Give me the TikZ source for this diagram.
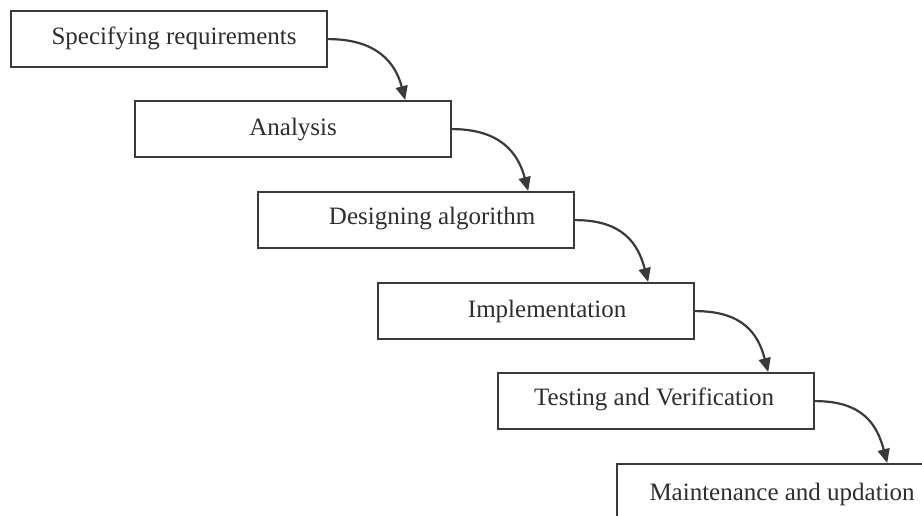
\documentclass[tikz,border=0pt]{standalone}
\usepackage{fontspec}
\setmainfont{Liberation Serif}
\usetikzlibrary{arrows.meta}
\definecolor{ink}{HTML}{3A3A3A}
\definecolor{txt}{HTML}{2E2E2E}
\begin{document}
\begin{tikzpicture}[x=1pt,y=-1pt,
  stage/.style={draw=ink, line width=2.2pt, fill=white, minimum width=316pt,
    minimum height=56pt, anchor=north west, inner sep=0pt},
  caption/.style={text=txt, font=\fontsize{25}{30}\selectfont},
  flow/.style={draw=ink, line width=2.2pt,
    -{Triangle[length=14pt,width=12pt]}}]
\useasboundingbox (0,0) rectangle (922,515);
\clip (0,0) rectangle (922,515);

% the six stages, stepping down to the right
\node[stage, label={[caption, xshift=5pt, yshift=1pt]center:Specifying requirements}] (b1) at (10,10) {};
\node[stage, label={[caption]center:Analysis}] (b2) at (134,100) {};
\node[stage, label={[caption, xshift=16pt, yshift=2pt]center:Designing algorithm}] (b3) at (257,191) {};
\node[stage, label={[caption, xshift=11pt]center:Implementation}] (b4) at (377,282) {};
\node[stage, label={[caption, xshift=-2pt, yshift=2pt]center:Testing and Verification}] (b5) at (497,372) {};
\node[stage, label={[caption, xshift=7pt, yshift=-2pt]center:Maintenance and updation}] (b6) at (616,463) {};

% curved connectors from each stage into the next
\draw[flow] (b1.east) .. controls +(48,0) and +(-10,-38) .. ([xshift=-47pt]b2.north east);
\draw[flow] (b2.east) .. controls +(48,0) and +(-10,-38) .. ([xshift=-47pt]b3.north east);
\draw[flow] (b3.east) .. controls +(48,0) and +(-10,-38) .. ([xshift=-47pt]b4.north east);
\draw[flow] (b4.east) .. controls +(48,0) and +(-10,-38) .. ([xshift=-47pt]b5.north east);
\draw[flow] (b5.east) .. controls +(48,0) and +(-10,-38) .. ([xshift=-47pt]b6.north east);
\end{tikzpicture}
\end{document}
